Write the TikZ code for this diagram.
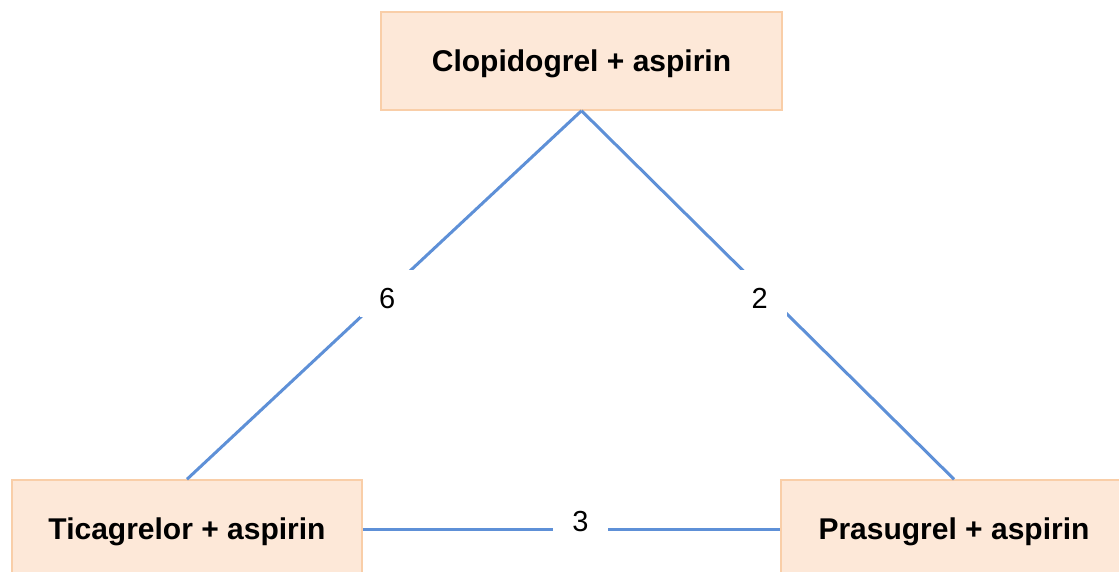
\documentclass[tikz,border=0pt]{standalone}
\usepackage{fontspec}
\setmainfont{Liberation Sans}
\usepackage{tikz}
\usetikzlibrary{positioning,calc}
\definecolor{boxfill}{RGB}{253,232,216}
\definecolor{boxline}{RGB}{249,206,168}
\definecolor{edgeblue}{RGB}{94,144,215}

\begin{document}
\begin{tikzpicture}
[x=1pt,y=-1pt,
 drug/.style={rectangle,draw=boxline,line width=1.5pt,fill=boxfill,minimum height=98pt,text height=21.5pt,text depth=0pt,font=\fontsize{30}{36}\selectfont\bfseries},
 lbl/.style={fill=white,font=\fontsize{29}{35}\selectfont,text height=30pt,text depth=0pt,inner xsep=19pt,inner ysep=8.5pt},
 link/.style={draw=edgeblue,line width=3pt}]
\clip (0,0) rectangle (1119,572);

\node[drug,minimum width=401pt] (clop) at (581.5,61) {Clopidogrel + aspirin};
\node[drug,minimum width=350pt] (tica) at (187,529) {Ticagrelor + aspirin};
\node[drug,minimum width=346pt] (pras) at (954,529) {Prasugrel + aspirin};

\draw[link] (clop.south) -- node[lbl,pos=.5,xshift=3pt,yshift=2pt] (n6) {6} (tica.north);
\draw[link] (clop.south) -- node[lbl,pos=.5,xshift=-8pt,yshift=2pt] (n2) {2} (pras.north);
\draw[link] (tica.east) -- node[lbl,pos=.5,xshift=9pt,yshift=13pt] (n3) {3} (pras.west);
\end{tikzpicture}
\end{document}
